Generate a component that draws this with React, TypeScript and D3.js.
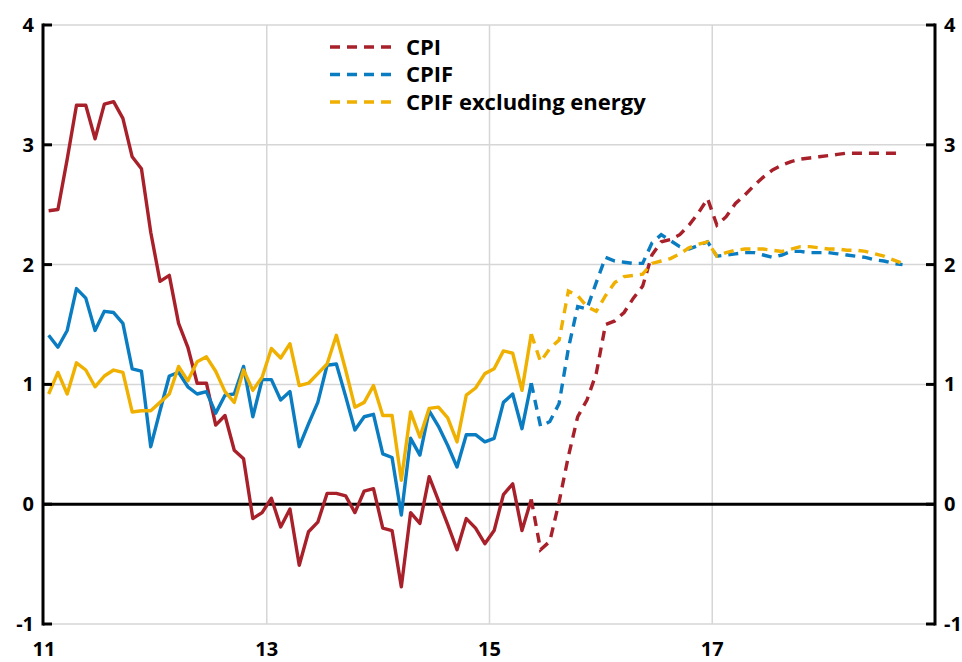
import React from "react";
import * as d3 from "d3";

const xTicks = [2011, 2013, 2015, 2017];
const xTickLabels = ["11", "13", "15", "17"];
const yTicks = [-1, 0, 1, 2, 3, 4];

// monthly, starting Jan 2011 (month index 0)
const cpiActual = [2.45, 2.46, 2.88, 3.33, 3.33, 3.05, 3.34, 3.36, 3.22, 2.9, 2.8, 2.27, 1.86, 1.91, 1.51, 1.31, 1.01, 1.01, 0.66, 0.74, 0.45, 0.38, -0.12, -0.07, 0.05, -0.19, -0.04, -0.51, -0.23, -0.15, 0.09, 0.09, 0.07, -0.07, 0.11, 0.13, -0.2, -0.22, -0.69, -0.07, -0.16, 0.23, 0.03, -0.17, -0.38, -0.12, -0.2, -0.33, -0.22, 0.08, 0.17, -0.22, 0.04];
const cpifActual = [1.41, 1.31, 1.45, 1.8, 1.72, 1.45, 1.61, 1.6, 1.51, 1.13, 1.11, 0.48, 0.78, 1.07, 1.1, 0.98, 0.92, 0.94, 0.76, 0.91, 0.92, 1.15, 0.73, 1.04, 1.04, 0.87, 0.94, 0.48, 0.67, 0.85, 1.16, 1.17, 0.9, 0.62, 0.73, 0.75, 0.42, 0.39, -0.09, 0.55, 0.41, 0.78, 0.65, 0.49, 0.31, 0.58, 0.58, 0.52, 0.55, 0.85, 0.92, 0.63, 1.01];
const cpifxActual = [0.92, 1.1, 0.92, 1.18, 1.12, 0.98, 1.07, 1.12, 1.1, 0.77, 0.78, 0.78, 0.85, 0.92, 1.15, 1.03, 1.19, 1.23, 1.11, 0.94, 0.85, 1.12, 0.95, 1.06, 1.3, 1.22, 1.34, 0.99, 1.01, 1.09, 1.17, 1.41, 1.12, 0.81, 0.85, 0.99, 0.74, 0.74, 0.2, 0.77, 0.56, 0.8, 0.81, 0.72, 0.52, 0.91, 0.97, 1.09, 1.13, 1.28, 1.26, 0.95, 1.42];

// projections, monthly, starting at month index 52 (May 2015)
const forecastStart = 52;
const cpiForecast = [0.04, -0.38, -0.31, 0.02, 0.4, 0.73, 0.87, 1.09, 1.5, 1.53, 1.6, 1.72, 1.82, 2.08, 2.19, 2.21, 2.25, 2.33, 2.43, 2.55, 2.33, 2.4, 2.51, 2.58, 2.66, 2.73, 2.79, 2.83, 2.86, 2.88, 2.89, 2.9, 2.91, 2.92, 2.93, 2.93, 2.93, 2.93, 2.93, 2.93, 2.93];
const cpifForecast = [1.01, 0.65, 0.69, 0.84, 1.3, 1.65, 1.63, 1.85, 2.06, 2.03, 2.02, 2.01, 2.01, 2.18, 2.25, 2.2, 2.15, 2.13, 2.16, 2.19, 2.07, 2.08, 2.09, 2.1, 2.1, 2.08, 2.06, 2.08, 2.11, 2.11, 2.1, 2.1, 2.1, 2.09, 2.08, 2.07, 2.06, 2.04, 2.03, 2.01, 2.0];
const cpifxForecast = [1.42, 1.19, 1.3, 1.37, 1.78, 1.74, 1.65, 1.61, 1.74, 1.85, 1.9, 1.91, 1.92, 2.01, 2.03, 2.05, 2.09, 2.14, 2.17, 2.19, 2.07, 2.1, 2.12, 2.13, 2.13, 2.13, 2.12, 2.11, 2.13, 2.15, 2.15, 2.14, 2.13, 2.13, 2.12, 2.12, 2.11, 2.09, 2.07, 2.04, 2.01];

const seriesNames = ["CPI", "CPIF", "CPIF excluding energy"];
const seriesColors = ["#A8202A", "#0A7CC1", "#F0B000"];

const W = 962;
const H = 662;
const left = 43;
const right = 935;
const top = 25;
const bottom = 624;
const font = "'Open Sans', 'DejaVu Sans', sans-serif";

export default function App() {
  const x = d3.scaleLinear().domain([2011, 2019]).range([left + 1, right]);
  const y = d3.scaleLinear().domain([-1, 4]).range([bottom, top]);
  const t = (m: number) => 2011 + (m + 0.5) / 12;
  const line = d3
    .line<[number, number]>()
    .x((d) => x(t(d[0])))
    .y((d) => y(d[1]));

  const actual = [cpiActual, cpifActual, cpifxActual];
  const forecast = [cpiForecast, cpifForecast, cpifxForecast];

  const drawOrder = [0, 1, 2];

  return (
    <svg
      width={W}
      height={H}
      style={{ position: "absolute", left: 0, top: 0, background: "#fff" }}
      fontFamily={font}
    >
      {/* horizontal grid */}
      {yTicks
        .filter((v) => v !== 0)
        .map((v) => (
          <line key={"hg" + v} x1={left} x2={right} y1={y(v)} y2={y(v)} stroke="#d6d6d6" strokeWidth={1.5} />
        ))}
      {/* vertical grid */}
      {xTicks.slice(1).map((v) => (
        <line key={"vg" + v} x1={x(v)} x2={x(v)} y1={top} y2={bottom} stroke="#d6d6d6" strokeWidth={1.5} />
      ))}
      {/* zero line */}
      <line x1={left} x2={right} y1={y(0)} y2={y(0)} stroke="#000" strokeWidth={3} />

      {/* series */}
      {drawOrder.map((i) => (
        <g key={"s" + i}>
          <path
            d={line(actual[i].map((v, k) => [k, v] as [number, number])) || ""}
            fill="none"
            stroke={seriesColors[i]}
            strokeWidth={3.4}
            strokeLinejoin="round"
          />
          <path
            d={line(forecast[i].map((v, k) => [k + forecastStart, v] as [number, number])) || ""}
            fill="none"
            stroke={seriesColors[i]}
            strokeWidth={3.4}
            strokeDasharray="10 7"
          />
        </g>
      ))}

      {/* axes */}
      <line x1={left} x2={left} y1={top - 1.5} y2={bottom + 1.5} stroke="#000" strokeWidth={3} />
      <line x1={right} x2={right} y1={top - 1.5} y2={bottom + 1.5} stroke="#000" strokeWidth={3} />
      {yTicks.map((v) => (
        <g key={"yt" + v}>
          <line x1={left} x2={left + 9} y1={y(v)} y2={y(v)} stroke="#000" strokeWidth={3} />
          <line x1={right - 9} x2={right} y1={y(v)} y2={y(v)} stroke="#000" strokeWidth={3} />
          <text x={34} y={y(v)} dy="0.35em" textAnchor="end" fontSize={20} fontWeight="bold" fill="#000">
            {v}
          </text>
          <text x={944} y={y(v)} dy="0.35em" textAnchor="start" fontSize={20} fontWeight="bold" fill="#000">
            {v}
          </text>
        </g>
      ))}
      {xTicks.map((v, i) => (
        <text key={"xt" + v} x={x(v)} y={656} textAnchor="middle" fontSize={20} fontWeight="bold" fill="#000">
          {xTickLabels[i]}
        </text>
      ))}

      {/* legend */}
      {seriesNames.map((n, i) => (
        <g key={"lg" + i}>
          <line
            x1={330}
            x2={396}
            y1={47 + i * 27.5}
            y2={47 + i * 27.5}
            stroke={seriesColors[i]}
            strokeWidth={3.4}
            strokeDasharray="10 7"
          />
          <text x={406} y={47 + i * 27.5} dy="0.35em" fontSize={22} fontWeight="bold" fill="#000">
            {n}
          </text>
        </g>
      ))}
    </svg>
  );
}
